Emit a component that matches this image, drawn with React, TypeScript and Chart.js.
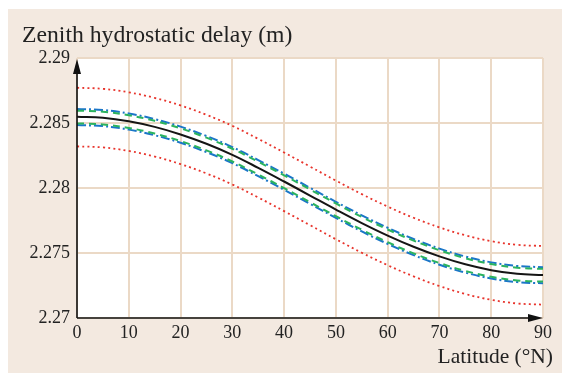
import React, { useEffect, useRef } from "react";
import { Chart, registerables } from "chart.js";

Chart.register(...registerables);

const latitudes = [0, 5, 10, 15, 20, 25, 30, 35, 40, 45, 50, 55, 60, 65, 70, 75, 80, 85, 90];

const zhdMean = [2.28548, 2.2854, 2.28513, 2.2847, 2.28412, 2.2834, 2.28255, 2.28155, 2.2805, 2.27942, 2.27834, 2.2773, 2.27634, 2.27548, 2.27474, 2.27413, 2.27368, 2.2734, 2.27331];
const redUpper = [2.28771, 2.28763, 2.28736, 2.28693, 2.28635, 2.28563, 2.28478, 2.28378, 2.28273, 2.28165, 2.28057, 2.27953, 2.27857, 2.27771, 2.27697, 2.27636, 2.27591, 2.27563, 2.27554];
const redLower = [2.2832, 2.28312, 2.28285, 2.28242, 2.28184, 2.28112, 2.28027, 2.27927, 2.27822, 2.27714, 2.27606, 2.27502, 2.27406, 2.2732, 2.27246, 2.27185, 2.2714, 2.27112, 2.27103];
const blueUpper = [2.28608, 2.286, 2.28573, 2.2853, 2.28472, 2.284, 2.28315, 2.28215, 2.2811, 2.28002, 2.27894, 2.2779, 2.27694, 2.27608, 2.27534, 2.27473, 2.27428, 2.274, 2.27391];
const greenUpper = [2.28595, 2.28587, 2.2856, 2.28517, 2.28459, 2.28387, 2.28302, 2.28202, 2.28097, 2.27989, 2.27881, 2.27777, 2.27681, 2.27595, 2.27521, 2.2746, 2.27415, 2.27387, 2.27378];
const greenLower = [2.28497, 2.28489, 2.28462, 2.28419, 2.28361, 2.28289, 2.28204, 2.28104, 2.27999, 2.27891, 2.27783, 2.27679, 2.27583, 2.27497, 2.27423, 2.27362, 2.27317, 2.27289, 2.2728];
const blueLower = [2.28484, 2.28476, 2.28449, 2.28406, 2.28348, 2.28276, 2.28191, 2.28091, 2.27986, 2.27878, 2.2777, 2.27666, 2.2757, 2.27484, 2.2741, 2.27349, 2.27304, 2.27276, 2.27267];

const xTickValues = [0, 10, 20, 30, 40, 50, 60, 70, 80, 90];
const yTickValues = [2.27, 2.275, 2.28, 2.285, 2.29];
const yTickLabels = ["2.27", "2.275", "2.28", "2.285", "2.29"];

const titleText = "Zenith hydrostatic delay (m)";
const xAxisText = "Latitude (°N)";

const SERIF = '"Liberation Serif", "Times New Roman", serif';

function pts(values: number[]) {
  return latitudes.map((x, i) => ({ x, y: values[i] }));
}

export default function App() {
  const ref = useRef<HTMLCanvasElement | null>(null);

  useEffect(() => {
    if (!ref.current) return;

    const decor = {
      id: "decor",
      beforeDraw(chart: any) {
        const { ctx, chartArea } = chart;
        ctx.save();
        ctx.fillStyle = "#ffffff";
        ctx.fillRect(chartArea.left, chartArea.top, chartArea.right - chartArea.left, chartArea.bottom - chartArea.top);
        ctx.restore();
      },
      afterDraw(chart: any) {
        const { ctx, chartArea } = chart;
        const { left, right, top, bottom } = chartArea;
        ctx.save();
        ctx.strokeStyle = "#111";
        ctx.fillStyle = "#111";
        ctx.lineWidth = 1.6;
        ctx.beginPath();
        ctx.moveTo(left, bottom);
        ctx.lineTo(left, top + 8);
        ctx.moveTo(left, bottom);
        ctx.lineTo(right - 8, bottom);
        ctx.stroke();
        ctx.beginPath();
        ctx.moveTo(left, top + 1);
        ctx.lineTo(left - 4, top + 16);
        ctx.lineTo(left + 4, top + 16);
        ctx.closePath();
        ctx.fill();
        ctx.beginPath();
        ctx.moveTo(right, bottom);
        ctx.lineTo(right - 15, bottom - 4);
        ctx.lineTo(right - 15, bottom + 4);
        ctx.closePath();
        ctx.fill();
        ctx.fillStyle = "#222";
        ctx.font = "23.7px " + SERIF;
        ctx.textAlign = "left";
        ctx.textBaseline = "alphabetic";
        ctx.fillText(titleText, 14, 33);
        ctx.font = "21.5px " + SERIF;
        ctx.textAlign = "right";
        ctx.fillText(xAxisText, 545, 354);
        ctx.restore();
      },
    };

    const chart = new Chart(ref.current, {
      type: "line",
      data: {
        datasets: [
          { data: pts(redUpper), borderColor: "#e8342c", borderWidth: 1.8, borderDash: [2, 3.2], pointRadius: 0, tension: 0.4 },
          { data: pts(redLower), borderColor: "#e8342c", borderWidth: 1.8, borderDash: [2, 3.2], pointRadius: 0, tension: 0.4 },
          { data: pts(greenUpper), borderColor: "#2bb35e", borderWidth: 2, borderDash: [7, 5], pointRadius: 0, tension: 0.4 },
          { data: pts(greenLower), borderColor: "#2bb35e", borderWidth: 2, borderDash: [7, 5], pointRadius: 0, tension: 0.4 },
          { data: pts(blueUpper), borderColor: "#1b76c8", borderWidth: 2, borderDash: [9, 3, 2, 3], pointRadius: 0, tension: 0.4 },
          { data: pts(blueLower), borderColor: "#1b76c8", borderWidth: 2, borderDash: [9, 3, 2, 3], pointRadius: 0, tension: 0.4 },
          { data: pts(zhdMean), borderColor: "#151515", borderWidth: 2, pointRadius: 0, tension: 0.4 },
        ],
      },
      options: {
        animation: false,
        responsive: false,
        events: [],
        layout: { padding: { top: 49, right: 19, left: 0, bottom: 0 } },
        plugins: { legend: { display: false }, tooltip: { enabled: false }, title: { display: false } },
        scales: {
          x: {
            type: "linear",
            min: 0,
            max: 90,
            afterFit: (s: any) => { s.height = 55; },
            afterBuildTicks: (s: any) => { s.ticks = xTickValues.map((v) => ({ value: v })); },
            grid: { color: "#ebd9c6", lineWidth: 2, drawTicks: false },
            border: { display: false },
            ticks: { color: "#222", padding: 4, font: { family: SERIF, size: 18 }, maxRotation: 0, autoSkip: false, callback: (v: any) => String(v) },
          },
          y: {
            type: "linear",
            min: 2.27,
            max: 2.29,
            afterFit: (s: any) => { s.width = 69; },
            afterBuildTicks: (s: any) => { s.ticks = yTickValues.map((v) => ({ value: v })); },
            grid: { color: "#ebd9c6", lineWidth: 2, drawTicks: false },
            border: { display: false },
            ticks: { color: "#222", padding: 7, font: { family: SERIF, size: 18 }, autoSkip: false, callback: (_v: any, i: number) => yTickLabels[i] },
          },
        },
      },
      plugins: [decor],
    } as any);

    return () => chart.destroy();
  }, []);

  return (
    <div style={{ position: "fixed", left: 8, top: 9, width: 554, height: 364, background: "#f3e9e0" }}>
      <canvas ref={ref} width={554} height={364} style={{ display: "block" }} />
    </div>
  );
}
